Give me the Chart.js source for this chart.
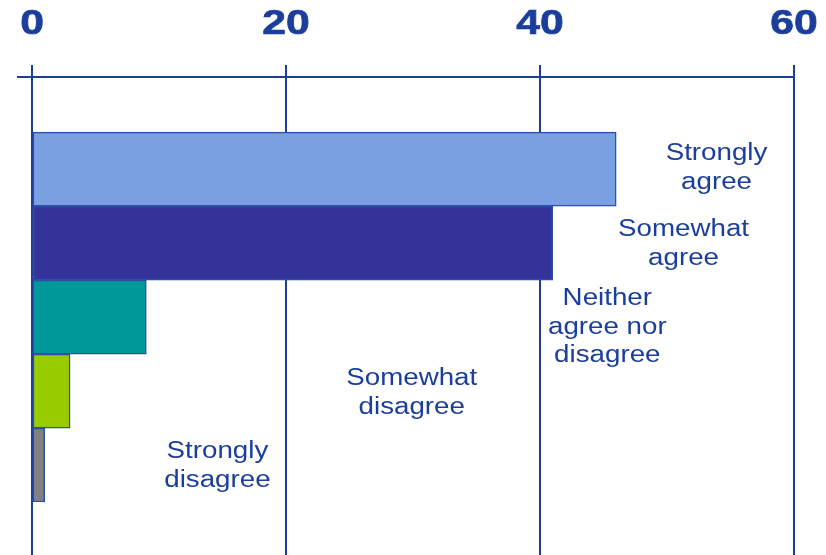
<!DOCTYPE html>
<html>
<head>
<meta charset="utf-8">
<script src="https://cdn.jsdelivr.net/npm/chart.js@4/dist/chart.umd.min.js"></script>
<style>
	html, body { margin: 0; padding: 0; background: #fff; }
	#wrap { width: 826px; height: 555px; }
</style>
</head>
<body>
<div id="wrap"><canvas id="likert-chart"></canvas></div>
<script>
// answers, top to bottom
const categories = ['Strongly agree', 'Somewhat agree', 'Neither agree nor disagree', 'Somewhat disagree', 'Strongly disagree'];
// how each answer is broken on lines in the picture
const labelLines = [['Strongly', 'agree'], ['Somewhat', 'agree'], ['Neither', 'agree nor', 'disagree'], ['Somewhat', 'disagree'], ['Strongly', 'disagree']];
// share of respondents (%)
const percentages = [46, 41, 9, 3, 1];
const barColors = ['#7aa0e2', '#333399', '#009999', '#99cc00', '#808080'];
const xTicks = [0, 20, 40, 60];

const blue = '#1b3e9d';
const font = '"Liberation Sans", Arial, sans-serif';

// text in the original is a bit wider than normal, so stretch it
const stretchedText = (ctx, text, x, y, sx, stroke) => {
	ctx.save();
	ctx.translate(x, y);
	ctx.scale(sx, 1);
	ctx.fillText(text, 0, 0);
	if (stroke) {
		ctx.lineWidth = stroke;
		ctx.strokeText(text, 0, 0);
	}
	ctx.restore();
};

const answerLabels = {
	id: 'answerLabels',
	afterDraw(chart, args, opts) {
		const { ctx, scales: { x, y } } = chart;
		ctx.save();
		ctx.fillStyle = blue;
		ctx.strokeStyle = blue;
		ctx.textAlign = 'center';
		ctx.textBaseline = 'alphabetic';

		// axis numbers on top
		ctx.font = 'bold 35px ' + font;
		xTicks.forEach((v) => stretchedText(ctx, String(v), x.getPixelForValue(v), 34, 1.22, 0.7));

		// answer names next to the bars
		ctx.font = '23.5px ' + font;
		labelLines.forEach((lines, i) => {
			const cx = x.getPixelForValue(opts.at[i]);
			const cy = y.getPixelForValue(i) + opts.dy[i];
			lines.forEach((t, j) => {
				const base = cy + (j - (lines.length - 1) / 2) * 28.5 + 8.4;
				stretchedText(ctx, t, cx, base, 1.18);
			});
		});
		ctx.restore();
	}
};

const data = {
	labels: categories,
	datasets: [{
		label: 'Share',
		data: percentages.map((v, i) => ({ x: v, y: i })),
		backgroundColor: barColors,
		borderColor: '#2c4ea8',
		borderWidth: 1.5,
		borderSkipped: false,
		barPercentage: 1,
		categoryPercentage: 1,
	}],
};

new Chart(document.getElementById('likert-chart'), {
	type: 'bar',
	data: data,
	plugins: [answerLabels],
	options: {
		indexAxis: 'y',
		responsive: true,
		maintainAspectRatio: false,
		animation: false,
		devicePixelRatio: 1,
		layout: { padding: { left: 0, top: 0, right: 32, bottom: 0 } },
		plugins: {
			legend: { display: false },
			tooltip: { enabled: false },
			answerLabels: {
				at: [53.9, 51.3, 45.3, 29.9, 14.6],
				dy: [-3, -1, 8, 0, -1],
			},
		},
		scales: {
			x: {
				position: 'top',
				min: 0,
				max: 60,
				ticks: { display: false, stepSize: 20 },
				grid: { color: blue, lineWidth: 2, tickLength: 12 },
				border: { display: false },
				afterFit: (s) => { s.height = 77; },
			},
			y: {
				type: 'linear',
				reverse: true,
				offset: false,
				min: -1.246,
				max: 5.216,
				ticks: { display: false },
				afterBuildTicks: (s) => { s.ticks = [{ value: s.min }]; },
				grid: { color: blue, lineWidth: 2, tickLength: 15, offset: false },
				border: { display: false },
				afterFit: (s) => { s.width = 32; },
			},
		},
	},
});
</script>
</body>
</html>
